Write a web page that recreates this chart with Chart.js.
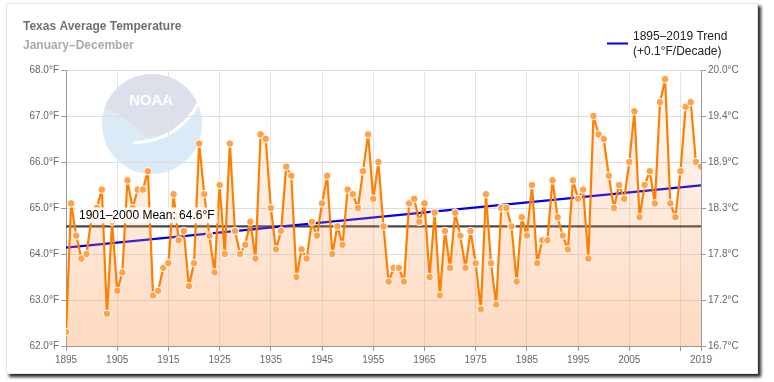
<!DOCTYPE html>
<html><head><meta charset="utf-8">
<script src="https://cdn.jsdelivr.net/npm/chart.js@4/dist/chart.umd.min.js"></script>
<style>
html,body{margin:0;padding:0;background:#fff;}
#frame{position:absolute;left:6px;top:3px;width:750px;height:369px;border:1px solid #e6e6e6;background:#fff;box-shadow:3px 3px 3px rgba(0,0,0,0.85);}
#wrap{position:absolute;left:0;top:0;width:774px;height:382px;}
</style></head><body>
<div id="frame"></div>
<div id="wrap"><canvas id="c"></canvas></div>
<script>
const years = [1895,1896,1897,1898,1899,1900,1901,1902,1903,1904,1905,1906,1907,1908,1909,1910,1911,1912,1913,1914,
1915,1916,1917,1918,1919,1920,1921,1922,1923,1924,1925,1926,1927,1928,1929,1930,1931,1932,1933,1934,
1935,1936,1937,1938,1939,1940,1941,1942,1943,1944,1945,1946,1947,1948,1949,1950,1951,1952,1953,1954,
1955,1956,1957,1958,1959,1960,1961,1962,1963,1964,1965,1966,1967,1968,1969,1970,1971,1972,1973,1974,
1975,1976,1977,1978,1979,1980,1981,1982,1983,1984,1985,1986,1987,1988,1989,1990,1991,1992,1993,1994,
1995,1996,1997,1998,1999,2000,2001,2002,2003,2004,2005,2006,2007,2008,2009,2010,2011,2012,2013,2014,
2015,2016,2017,2018,2019];
const temps = [62.3,65.1,64.4,63.9,64.0,64.8,65.0,65.4,62.7,64.7,63.2,63.6,65.6,65.0,65.4,65.4,65.8,63.1,63.2,63.7,
63.8,65.3,64.3,64.5,63.3,63.8,66.4,65.3,64.4,63.6,65.5,64.0,66.4,64.5,64.0,64.2,64.7,63.9,66.6,66.5,
65.0,64.1,64.5,65.9,65.7,63.5,64.1,63.9,64.7,64.4,65.1,65.7,64.0,64.6,64.2,65.4,65.3,65.0,65.8,66.6,
65.2,66.0,64.6,63.4,63.7,63.7,63.4,65.1,65.2,64.7,65.1,63.5,64.9,63.1,64.5,63.7,64.9,64.4,63.7,64.5,
63.8,62.8,65.3,63.8,62.9,65.0,65.0,64.6,63.4,64.8,64.4,65.5,63.8,64.3,64.3,65.6,64.8,64.4,64.1,65.6,
65.2,65.4,63.9,67.0,66.6,66.5,65.7,65.0,65.5,65.2,66.0,67.1,64.8,65.5,65.8,65.1,67.3,67.8,65.1,64.8,
65.8,67.2,67.3,66.0,65.9];
const trendYears = [1895, 2019];
const trendValues = [64.14, 65.49];
const meanYears = [1895, 2019];
const meanValue = 64.6;
const xTickValues = [1895,1905,1915,1925,1935,1945,1955,1965,1975,1985,1995,2005,2015,2019];
const xTickLabels = ['1895','1905','1915','1925','1935','1945','1955','1965','1975','1985','1995','2005','','2019'];
const fTickValues = [62,63,64,65,66,67,68];
const fTickLabels = ['62.0°F','63.0°F','64.0°F','65.0°F','66.0°F','67.0°F','68.0°F'];
const cTickLabels = ['16.7°C','17.2°C','17.8°C','18.3°C','18.9°C','19.4°C','20.0°C'];
const titleText = 'Texas Average Temperature';
const subtitleText = 'January–December';
const legendLines = ['1895–2019 Trend', '(+0.1°F/Decade)'];
const meanLabel = '1901–2000 Mean: 64.6°F';

const FONT = '"Liberation Sans", Arial, sans-serif';

const decor = {
  id: 'decor',
  beforeDraw(chart) {
    const ctx = chart.ctx;
    const cx = 152, cy = 124, r = 50;
    ctx.save();
    ctx.beginPath(); ctx.arc(cx, cy, r, 0, Math.PI * 2); ctx.closePath();
    ctx.fillStyle = 'rgb(219,234,247)'; ctx.fill();
    ctx.clip();
    ctx.beginPath();
    ctx.moveTo(95, 62);
    ctx.lineTo(98, 107);
    ctx.quadraticCurveTo(125, 112, 145, 137);
    ctx.lineTo(166, 134);
    ctx.quadraticCurveTo(188, 125, 197, 100);
    ctx.lineTo(205, 62);
    ctx.closePath();
    ctx.fillStyle = 'rgb(221,223,234)'; ctx.fill();
    ctx.strokeStyle = '#fff'; ctx.lineWidth = 3;
    ctx.beginPath(); ctx.moveTo(133, 143); ctx.quadraticCurveTo(180, 141, 200, 100); ctx.stroke();
    ctx.fillStyle = '#fff';
    ctx.font = 'bold 15px ' + FONT;
    ctx.textAlign = 'center'; ctx.textBaseline = 'alphabetic';
    ctx.fillText('NOAA', 151, 105);
    ctx.restore();
  },
  afterDatasetsDraw(chart) {
    const ctx = chart.ctx;
    const x0 = chart.scales.x.getPixelForValue(meanYears[0]);
    const y0 = chart.scales.y.getPixelForValue(meanValue);
    ctx.save();
    ctx.font = '12px ' + FONT;
    const w = ctx.measureText(meanLabel).width;
    ctx.fillStyle = 'rgba(255,255,255,0.85)';
    ctx.fillRect(x0 + 10, y0 - 19, w + 6, 16);
    ctx.fillStyle = '#000';
    ctx.textAlign = 'left'; ctx.textBaseline = 'middle';
    ctx.fillText(meanLabel, x0 + 13, y0 - 11);
    ctx.restore();
  },
  afterDraw(chart) {
    const ctx = chart.ctx;
    ctx.save();
    ctx.textAlign = 'left'; ctx.textBaseline = 'alphabetic';
    ctx.font = 'bold 12px ' + FONT;
    ctx.fillStyle = '#707070';
    ctx.fillText(titleText, 23, 29.5);
    ctx.fillStyle = '#aaaaaa';
    ctx.fillText(subtitleText, 23, 49);
    ctx.strokeStyle = '#0000ee'; ctx.lineWidth = 2;
    ctx.beginPath(); ctx.moveTo(607, 43.5); ctx.lineTo(628, 43.5); ctx.stroke();
    ctx.font = '12px ' + FONT;
    ctx.fillStyle = '#222';
    ctx.fillText(legendLines[0], 633, 40);
    ctx.fillText(legendLines[1], 633, 55);
    ctx.restore();
  }
};

function fillGradient(context) {
  const chart = context.chart;
  const a = chart.chartArea;
  if (!a) return 'rgba(250,150,80,0.2)';
  const g = chart.ctx.createLinearGradient(0, a.top, 0, a.bottom);
  g.addColorStop(0, 'rgba(250,150,80,0.04)');
  g.addColorStop(1, 'rgba(250,150,80,0.36)');
  return g;
}

const tempPoints = years.map((y, i) => ({ x: y, y: temps[i] }));
const trendPoints = trendYears.map((y, i) => ({ x: y, y: trendValues[i] }));
const meanPoints = meanYears.map(y => ({ x: y, y: meanValue }));

new Chart(document.getElementById('c'), {
  type: 'line',
  data: {
    datasets: [
      {
        data: tempPoints, order: 0,
        borderColor: '#ff8000', borderWidth: 2.2, borderJoinStyle: 'round', borderCapStyle: 'round',
        pointRadius: 3.8, pointHoverRadius: 3.8,
        pointBackgroundColor: '#ffa24a', pointBorderColor: '#ffffff', pointBorderWidth: 1,
        fill: 'start', backgroundColor: fillGradient, tension: 0
      },
      {
        data: trendPoints, order: 1,
        borderColor: '#0000ee', borderWidth: 2.2, pointRadius: 0, fill: false
      },
      {
        data: meanPoints, order: 2,
        borderColor: '#474747', borderWidth: 2.2, pointRadius: 0, fill: false
      }
    ]
  },
  options: {
    responsive: true, maintainAspectRatio: false, animation: false, devicePixelRatio: 1,
    layout: { padding: { left: 0, right: 0, top: 70, bottom: 0 } },
    plugins: { legend: { display: false }, title: { display: false }, tooltip: { enabled: false } },
    scales: {
      x: {
        type: 'linear', min: 1895, max: 2019,
        afterBuildTicks: s => { s.ticks = xTickValues.map(v => ({ value: v })); },
        afterFit: s => { s.height = 36; },
        ticks: {
          autoSkip: false, maxRotation: 0, padding: 3,
          color: '#666', font: { family: FONT, size: 10 },
          callback: (v) => { const i = xTickValues.indexOf(v); return i >= 0 ? xTickLabels[i] : ''; }
        },
        grid: { color: '#e3e3e3', lineWidth: 1, drawTicks: true, tickLength: 5, tickColor: '#999' },
        border: { color: '#999', width: 1 }
      },
      y: {
        position: 'left', min: 62, max: 68,
        afterBuildTicks: s => { s.ticks = fTickValues.map(v => ({ value: v })); },
        afterFit: s => { s.width = 66; },
        ticks: {
          padding: 2, color: '#666', font: { family: FONT, size: 10 },
          callback: (v) => { const i = fTickValues.indexOf(v); return i >= 0 ? fTickLabels[i] : ''; }
        },
        grid: { color: '#dddddd', lineWidth: 1, tickLength: 5, tickColor: '#999' },
        border: { color: '#999', width: 1 }
      },
      y2: {
        position: 'right', min: 62, max: 68,
        afterBuildTicks: s => { s.ticks = fTickValues.map(v => ({ value: v })); },
        afterFit: s => { s.width = 73; },
        ticks: {
          padding: 2, color: '#666', font: { family: FONT, size: 10 },
          callback: (v) => { const i = fTickValues.indexOf(v); return i >= 0 ? cTickLabels[i] : ''; }
        },
        grid: { drawOnChartArea: false, tickLength: 5, tickColor: '#999' },
        border: { color: '#999', width: 1 }
      }
    }
  },
  plugins: [decor]
});
</script>
</body></html>
